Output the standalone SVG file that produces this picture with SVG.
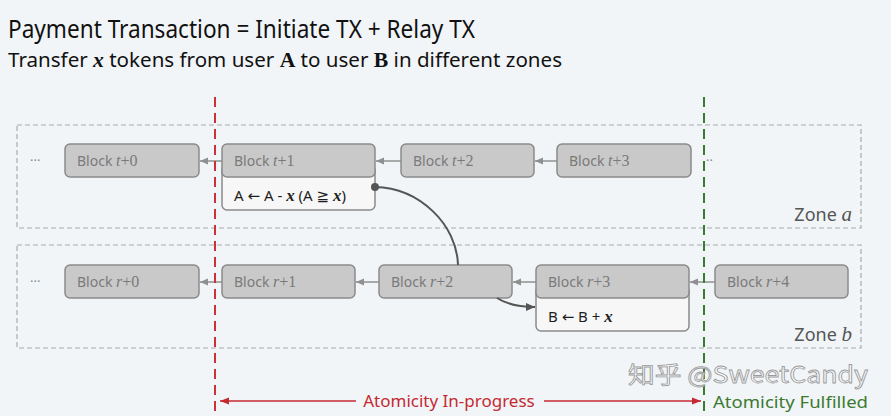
<svg xmlns="http://www.w3.org/2000/svg" width="891" height="416" viewBox="0 0 891 416">
<defs>
<style>
.sans{font-family:"Noto Sans","DejaVu Sans",sans-serif}
.serif{font-family:"Liberation Serif","DejaVu Serif",serif}
.zone{fill:none;stroke:#a9acae;stroke-width:1.2;stroke-dasharray:5 3}
.blk{fill:#c9c9c9;stroke:#8a8a8a;stroke-width:1.5}
.low{fill:#f7f7f7;stroke:#8a8a8a;stroke-width:1.5}
.lbl{font-family:"Noto Sans","DejaVu Sans",sans-serif;font-size:14px;fill:#7a7a7a}
.var{font-family:"Liberation Serif",serif;font-size:16px;fill:#7a7a7a}
.link{stroke:#8f8f8f;stroke-width:1.5;fill:none;marker-end:url(#ga)}
.dots{font-family:"Noto Sans",sans-serif;font-size:13px;fill:#888}
.op{font-family:"Noto Sans","DejaVu Sans",sans-serif;font-size:15px;fill:#1e1e1e}
.bx{font-family:"Liberation Serif",serif;font-style:italic;font-weight:bold;font-size:17px}
</style>
<marker id="ga" markerWidth="10" markerHeight="10" refX="9" refY="5" orient="auto" markerUnits="userSpaceOnUse">
<path d="M1,1.5 L9,5 L1,8.5 Z" fill="#8f8f8f"/>
</marker>
<marker id="da" markerWidth="12" markerHeight="12" refX="10" refY="6" orient="auto" markerUnits="userSpaceOnUse">
<path d="M1,2 L10,6 L1,10 Z" fill="#555"/>
</marker>
<marker id="ra" markerWidth="12" markerHeight="12" refX="10" refY="6" orient="auto" markerUnits="userSpaceOnUse">
<path d="M1,2.5 L10,6 L1,9.5 Z" fill="#c42a30"/>
</marker>
</defs>
<rect x="0" y="0" width="891" height="416" fill="#f1f5f8"/>

<g id="title">
<text x="8" y="38" class="sans" font-size="25" fill="#111" textLength="467" lengthAdjust="spacingAndGlyphs">Payment Transaction = Initiate TX + Relay TX</text>
<text x="8" y="67" class="sans" font-size="19" fill="#111" textLength="554" lengthAdjust="spacingAndGlyphs">Transfer <tspan class="serif" font-style="italic" font-weight="bold" font-size="20">x</tspan> tokens from user <tspan class="serif" font-weight="bold" font-size="20">A</tspan> to user <tspan class="serif" font-weight="bold" font-size="20">B</tspan> in different zones</text>
</g>

<g id="zone-a">
<rect class="zone" x="17" y="125" width="844" height="103"/>
<text x="852" y="221" text-anchor="end" font-size="18" fill="#555"><tspan class="sans">Zone </tspan><tspan class="serif" font-style="italic" font-size="21">a</tspan></text>
</g>
<g id="zone-b">
<rect class="zone" x="17" y="245" width="844" height="103"/>
<text x="852" y="341" text-anchor="end" font-size="18" fill="#555"><tspan class="sans">Zone </tspan><tspan class="serif" font-style="italic" font-size="21">b</tspan></text>
</g>

<g id="dots-a"><text class="dots" x="30" y="165">···</text></g>
<g id="dots-a2"><text class="dots" x="706" y="165">··</text></g>
<g id="dots-b"><text class="dots" x="30" y="286">···</text></g>

<g id="block-t0">
<rect class="blk" x="65" y="144" width="134" height="33" rx="5"/>
<text x="77" y="166"><tspan class="lbl">Block </tspan><tspan class="var" font-style="italic">t</tspan><tspan class="var">+0</tspan></text>
</g>
<g id="block-t1">
<rect class="low" x="222" y="165" width="153" height="45" rx="5"/>
<rect class="blk" x="222" y="144" width="153" height="33" rx="5"/>
<text x="234" y="166"><tspan class="lbl">Block </tspan><tspan class="var" font-style="italic">t</tspan><tspan class="var">+1</tspan></text>
<text x="234" y="201" class="op">A ← A - <tspan class="bx">x</tspan>  (A ≧ <tspan class="bx">x</tspan>)</text>
</g>
<g id="block-t2">
<rect class="blk" x="401" y="144" width="133" height="33" rx="5"/>
<text x="413" y="166"><tspan class="lbl">Block </tspan><tspan class="var" font-style="italic">t</tspan><tspan class="var">+2</tspan></text>
</g>
<g id="block-t3">
<rect class="blk" x="557" y="144" width="134" height="33" rx="5"/>
<text x="569" y="166"><tspan class="lbl">Block </tspan><tspan class="var" font-style="italic">t</tspan><tspan class="var">+3</tspan></text>
</g>

<g id="block-r0">
<rect class="blk" x="65" y="265" width="134" height="33" rx="5"/>
<text x="77" y="287"><tspan class="lbl">Block </tspan><tspan class="var" font-style="italic">r</tspan><tspan class="var">+0</tspan></text>
</g>
<g id="block-r1">
<rect class="blk" x="222" y="265" width="133" height="33" rx="5"/>
<text x="234" y="287"><tspan class="lbl">Block </tspan><tspan class="var" font-style="italic">r</tspan><tspan class="var">+1</tspan></text>
</g>
<g id="block-r2">
<rect class="blk" x="379" y="265" width="133" height="33" rx="5"/>
<text x="391" y="287"><tspan class="lbl">Block </tspan><tspan class="var" font-style="italic">r</tspan><tspan class="var">+2</tspan></text>
</g>
<g id="block-r3">
<rect class="low" x="536" y="286" width="153" height="45" rx="5"/>
<rect class="blk" x="536" y="265" width="153" height="33" rx="5"/>
<text x="548" y="287"><tspan class="lbl">Block </tspan><tspan class="var" font-style="italic">r</tspan><tspan class="var">+3</tspan></text>
<text x="548" y="322" class="op">B ← B + <tspan class="bx">x</tspan></text>
</g>
<g id="block-r4">
<rect class="blk" x="715" y="265" width="133" height="33" rx="5"/>
<text x="727" y="287"><tspan class="lbl">Block </tspan><tspan class="var" font-style="italic">r</tspan><tspan class="var">+4</tspan></text>
</g>

<g id="connectors">
<line class="link" x1="222" y1="161" x2="200" y2="161"/>
<line class="link" x1="401" y1="161" x2="376" y2="161"/>
<line class="link" x1="557" y1="161" x2="535" y2="161"/>
<line class="link" x1="222" y1="282" x2="200" y2="282"/>
<line class="link" x1="379" y1="282" x2="356" y2="282"/>
<line class="link" x1="536" y1="282" x2="513" y2="282"/>
<line class="link" x1="715" y1="282" x2="690" y2="282"/>
<circle cx="375" cy="187" r="4" fill="#555"/>
<path d="M375,187 C420,188 457,225 458,265" fill="none" stroke="#555" stroke-width="2"/>
<path d="M497,298 C508,305 520,307 535,307" fill="none" stroke="#555" stroke-width="2" marker-end="url(#da)"/>
</g>

<g id="boundaries">
<line x1="215" y1="97" x2="215" y2="416" stroke="#cf2f37" stroke-width="2" stroke-dasharray="10 6"/>
<line x1="704" y1="97" x2="704" y2="416" stroke="#3c7a30" stroke-width="2" stroke-dasharray="10 6"/>
</g>

<g id="watermark">
<text x="628" y="383" font-family="'Noto Sans CJK SC','Noto Sans',sans-serif" font-size="23" fill="#ffffff" fill-opacity="0.7" stroke="#9a9a9a" stroke-width="0.8" textLength="240" lengthAdjust="spacingAndGlyphs">知乎 @SweetCandy</text>
</g>

<g id="atomicity">
<line x1="356" y1="401" x2="220" y2="401" stroke="#c42a30" stroke-width="1.5" marker-end="url(#ra)"/>
<line x1="544" y1="401" x2="701" y2="401" stroke="#c42a30" stroke-width="1.5" marker-end="url(#ra)"/>
<text x="449" y="407" text-anchor="middle" class="sans" font-size="17" fill="#c42a30">Atomicity In-progress</text>
<text x="713" y="408" class="sans" font-size="17" fill="#3c7a30" textLength="155" lengthAdjust="spacingAndGlyphs">Atomicity Fulfilled</text>
</g>
</svg>
